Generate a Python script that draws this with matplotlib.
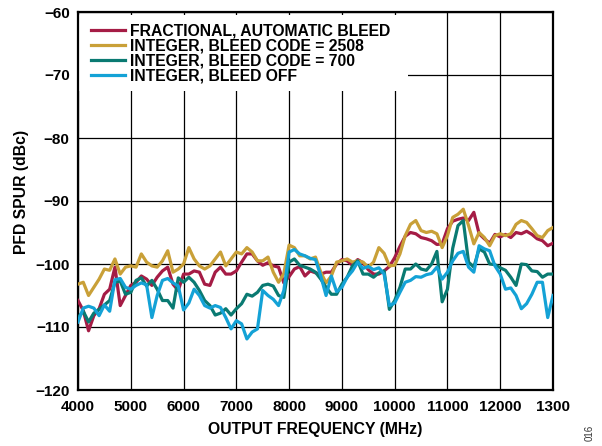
import matplotlib
matplotlib.use('Agg')
import matplotlib.pyplot as plt
import numpy as np
from matplotlib.patches import Rectangle

# output frequency, MHz (100 MHz steps)
freq = np.arange(4000, 13001, 100)

# PFD spur level, dBc
frac_auto = [
    -105.8, -107.4, -110.6, -108.2, -107.1, -104.8, -104.0, -100.5, -106.6, -105.0,
    -103.4, -102.9, -101.9, -102.4, -103.4, -102.1, -101.1, -100.5, -103.2, -104.2,
    -101.6, -101.6, -101.1, -101.3, -103.2, -103.4, -101.3, -100.5, -101.6, -101.6,
    -101.1, -99.7, -98.4, -98.4, -99.5, -100.2, -99.8, -100.3, -100.5, -103.0,
    -102.0, -100.8, -100.4, -101.9, -101.1, -101.4, -101.6, -101.3, -101.3, -100.0,
    -99.3, -99.5, -100.2, -99.3, -99.8, -100.9, -101.6, -101.6, -101.1, -100.4,
    -99.0, -97.2, -95.6, -95.0, -95.2, -95.8, -96.0, -96.3, -96.9, -96.8,
    -94.4, -93.2, -92.9, -92.7, -93.1, -91.8, -95.2, -96.0, -96.7, -95.3,
    -95.7, -95.3, -95.8, -95.0, -95.2, -94.8, -95.3, -96.0, -96.3, -97.1,
    -96.7]

int_2508 = [
    -103.2, -102.9, -105.0, -103.7, -102.4, -100.8, -101.0, -99.2, -101.6, -100.5,
    -100.3, -100.5, -98.4, -99.7, -100.3, -100.5, -99.5, -97.9, -101.3, -100.8,
    -100.0, -97.4, -99.2, -100.3, -100.8, -100.3, -99.2, -98.1, -100.3, -99.2,
    -98.1, -98.4, -97.4, -98.1, -99.5, -99.5, -98.9, -101.3, -102.9, -101.5,
    -97.0, -97.4, -98.7, -98.7, -99.2, -98.9, -101.3, -103.0, -101.9, -99.7,
    -99.5, -99.2, -99.7, -99.5, -99.7, -100.5, -99.7, -97.4, -98.3, -100.3,
    -100.2, -98.4, -95.5, -93.7, -93.1, -94.7, -95.0, -94.8, -95.2, -97.4,
    -95.5, -92.6, -92.1, -91.3, -93.9, -96.8, -95.0, -95.8, -97.1, -95.5,
    -95.2, -95.5, -95.2, -93.7, -93.1, -93.4, -94.4, -95.5, -95.8, -94.7,
    -94.2]

int_700 = [
    -108.5, -107.5, -109.2, -107.8, -107.2, -106.5, -105.8, -102.9, -102.7, -104.8,
    -104.5, -102.6, -102.2, -103.5, -102.6, -104.0, -105.8, -105.8, -107.0, -102.2,
    -102.9, -102.1, -102.9, -104.2, -105.8, -106.6, -108.1, -107.8, -107.1, -108.1,
    -107.1, -106.3, -104.8, -105.1, -104.5, -103.4, -103.2, -103.5, -105.0, -105.3,
    -99.7, -99.2, -100.2, -100.5, -100.8, -101.3, -102.4, -103.7, -104.8, -104.8,
    -103.2, -102.1, -100.3, -99.5, -101.6, -101.6, -102.1, -101.4, -101.1, -107.2,
    -105.8, -103.7, -100.8, -100.8, -100.0, -100.8, -101.0, -100.0, -98.0, -106.0,
    -104.0, -97.5, -93.9, -93.1, -99.7, -100.5, -97.6, -98.1, -100.0, -100.1,
    -100.6, -101.0, -102.1, -103.4, -100.0, -100.1, -101.1, -101.2, -102.1, -101.6,
    -101.6]

int_off = [
    -109.2, -107.0, -106.7, -107.0, -108.2, -106.5, -107.5, -102.5, -102.3, -103.7,
    -104.0, -103.4, -103.0, -103.3, -108.5, -105.0, -102.6, -102.3, -103.0, -103.5,
    -107.3, -106.2, -104.0, -105.0, -106.6, -107.0, -106.6, -106.9, -108.5, -110.3,
    -109.0, -109.5, -111.9, -110.8, -110.3, -104.2, -105.0, -105.6, -106.6, -104.2,
    -98.1, -97.7, -98.4, -98.7, -99.1, -99.3, -101.9, -105.0, -101.9, -104.4,
    -103.7, -102.1, -101.1, -99.7, -100.7, -100.4, -100.9, -100.6, -101.6, -106.6,
    -106.2, -104.5, -102.9, -102.6, -102.0, -102.1, -101.7, -101.5, -100.5, -102.4,
    -101.3, -99.5, -98.3, -98.0, -100.5, -101.3, -97.1, -97.6, -97.9, -100.3,
    -101.6, -104.0, -103.8, -105.0, -107.1, -106.3, -104.8, -102.9, -102.9, -108.5,
    -105.0]

series = [frac_auto, int_2508, int_700, int_off]
labels = ['FRACTIONAL, AUTOMATIC BLEED', 'INTEGER, BLEED CODE = 2508',
          'INTEGER, BLEED CODE = 700', 'INTEGER, BLEED OFF']
colors = ['#A51C45', '#C9A038', '#0A7A72', '#14A2D6']

xticks = [4000, 5000, 6000, 7000, 8000, 9000, 10000, 11000, 12000, 13000]
xtick_labels = ['4000', '5000', '6000', '7000', '8000', '9000', '10000', '11000', '12000', '1300']
yticks = [-120, -110, -100, -90, -80, -70, -60]

plt.rcParams['font.family'] = ['Liberation Sans', 'DejaVu Sans']

fig = plt.figure(figsize=(6.02, 4.46), dpi=100)
ax = fig.add_axes([78/602, 1 - 390/446, 475/602, 378/446])

for vals, c, lab in zip(series, colors, labels):
    ax.plot(freq, vals, color=c, lw=2.3, label=lab, zorder=3)

ax.set_xlim(4000, 13000)
ax.set_ylim(-120, -60)
ax.set_xticks(xticks)
ax.set_xticklabels(xtick_labels, fontweight='bold')
ax.set_yticks(yticks)
ax.set_yticklabels([f'\u2212{abs(v)}' for v in yticks], fontweight='bold')
ax.tick_params(length=0, labelsize=11, pad=6)
ax.tick_params(axis='x', pad=7.5)
ax.grid(color='black', lw=0.9)
ax.set_axisbelow(True)
for s in ax.spines.values():
    s.set_linewidth(1.6)

# white backdrop behind the legend hides the grid there
ax.add_patch(Rectangle((0, 0.791), 0.695, 0.201, transform=ax.transAxes,
                       facecolor='white', edgecolor='none', zorder=2))
ax.legend(loc='upper left', bbox_to_anchor=(0.027, 0.970), frameon=False,
          prop={'size': 11.3, 'weight': 'bold'}, handlelength=2.15,
          handletextpad=0.32, labelspacing=0.0, borderpad=0, borderaxespad=0)

ax.set_xlabel('OUTPUT FREQUENCY (MHz)', fontsize=11.3, fontweight='bold')
ax.xaxis.set_label_coords(0.5, -0.085)
ax.set_ylabel('PFD SPUR (dBc)', fontsize=11.3, fontweight='bold')
ax.yaxis.set_label_coords(-0.104, 0.525)

fig.text(590/602, 1 - 433/446, '016', rotation=90, fontsize=7,
         ha='center', va='center', color='#333333')

fig.savefig('out.png', dpi=100)
